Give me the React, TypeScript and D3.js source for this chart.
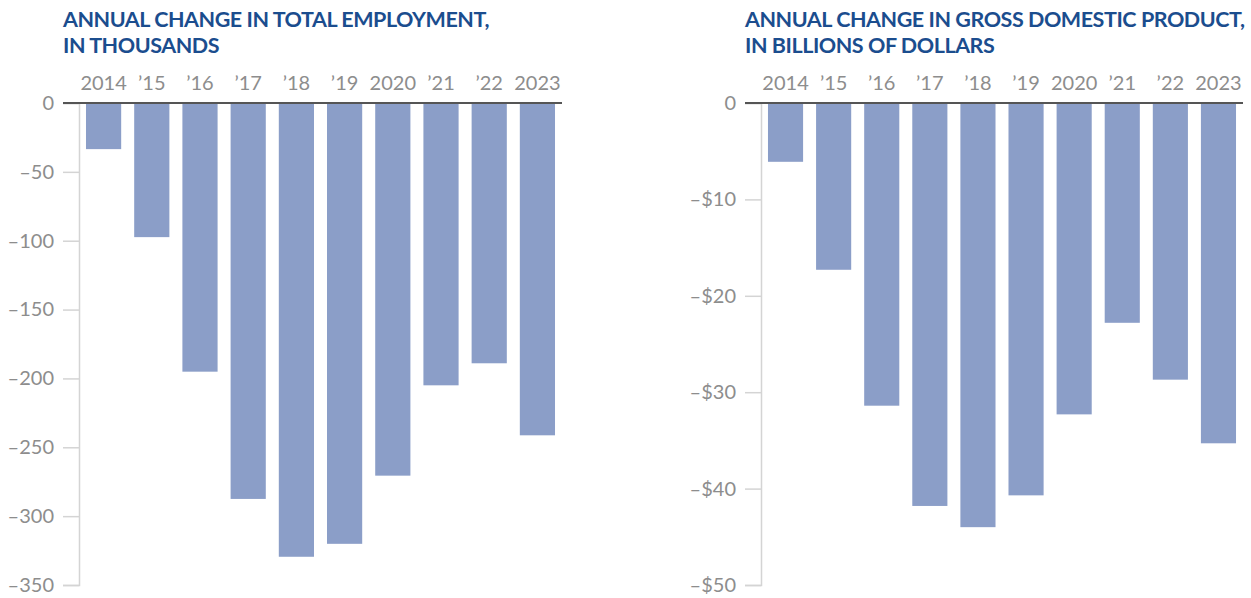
import * as d3 from "d3";
import { useEffect, useRef } from "react";

const years = ["2014", "’15", "’16", "’17", "’18", "’19", "2020", "’21", "’22", "2023"];
const employmentChange = [-33.5, -97.4, -195.1, -287.5, -329.5, -320.1, -270.6, -205, -189, -241.3];
const gdpChange = [-6.1, -17.3, -31.4, -41.8, -44.0, -40.7, -32.3, -22.8, -28.7, -35.3];
const employmentTicks = [0, -50, -100, -150, -200, -250, -300, -350];
const gdpTicks = [0, -10, -20, -30, -40, -50];
const employmentTitle = ["ANNUAL CHANGE IN TOTAL EMPLOYMENT,", "IN THOUSANDS"];
const gdpTitle = ["ANNUAL CHANGE IN GROSS DOMESTIC PRODUCT,", "IN BILLIONS OF DOLLARS"];

const BAR = "#8b9ec8";
const TITLE = "#1b4d8e";
const MUTED = "#8d8d8d";
const FONT = "Lato, 'Open Sans', sans-serif";

interface PanelProps {
  values: number[];
  ticks: number[];
  min: number;
  title: string[];
  axisX: number;
  right: number;
  titleX: number;
  fmt: (v: number) => string;
}

function drawPanel(svg: d3.Selection<SVGSVGElement, unknown, null, undefined>, p: PanelProps) {
  const top = 103;
  const bottom = 585;
  const g = svg.append("g");

  const x = d3.scaleBand<string>().domain(years).range([p.axisX, p.right]).paddingInner(0.27).paddingOuter(0.145);
  const y = d3.scaleLinear().domain([0, p.min]).range([top, bottom]);

  // title
  const t = g
    .append("text")
    .attr("x", p.titleX)
    .attr("fill", TITLE)
    .attr("font-family", FONT)
    .attr("font-weight", 700)
    .attr("font-size", 21.5)
    .attr("letter-spacing", -0.45);
  p.title.forEach((line, i) => {
    t.append("tspan").attr("x", p.titleX).attr("y", 27 + i * 26).text(line);
  });

  // y axis
  g.append("g")
    .attr("transform", `translate(${p.axisX},0)`)
    .call(
      d3
        .axisLeft(y)
        .tickValues(p.ticks)
        .tickSize(16)
        .tickPadding(9)
        .tickFormat((d) => p.fmt(d as number)),
    )
    .call((a) => a.select(".domain").attr("stroke", "#d4d4d4").attr("stroke-width", 1.5))
    .call((a) => a.selectAll(".tick line").attr("stroke", "#d4d4d4").attr("stroke-width", 1.5))
    .call((a) =>
      a
        .selectAll(".tick text")
        .attr("fill", MUTED)
        .attr("font-family", FONT)
        .attr("font-size", "20px"),
    );

  // bars
  g.selectAll(".bar")
    .data(p.values)
    .enter()
    .append("rect")
    .attr("x", (_, i) => x(years[i]) || 0)
    .attr("width", x.bandwidth())
    .attr("y", y(0))
    .attr("height", (d) => y(d) - y(0))
    .attr("fill", BAR);

  // zero line
  g.append("line")
    .attr("x1", p.axisX - 16)
    .attr("x2", p.right)
    .attr("y1", y(0))
    .attr("y2", y(0))
    .attr("stroke", "#555")
    .attr("stroke-width", 2);

  // category labels
  g.selectAll(".cat")
    .data(years)
    .enter()
    .append("text")
    .attr("x", (d) => (x(d) || 0) + x.bandwidth() / 2)
    .attr("y", 90)
    .attr("text-anchor", "middle")
    .attr("fill", MUTED)
    .attr("font-family", FONT)
    .attr("font-size", 20)
    .text((d) => d);
}

export default function App() {
  const svgRef = useRef<SVGSVGElement>(null);

  useEffect(() => {
    if (!svgRef.current) return;
    const svg = d3.select(svgRef.current);
    svg.selectAll("*").remove();

    drawPanel(svg, {
      values: employmentChange,
      ticks: employmentTicks,
      min: -350,
      title: employmentTitle,
      axisX: 79,
      right: 562,
      titleX: 63,
      fmt: (v) => (v === 0 ? "0" : `–${Math.abs(v)}`),
    });
    drawPanel(svg, {
      values: gdpChange,
      ticks: gdpTicks,
      min: -50,
      title: gdpTitle,
      axisX: 761,
      right: 1243,
      titleX: 745,
      fmt: (v) => (v === 0 ? "0" : `–$${Math.abs(v)}`),
    });
  }, []);

  return (
    <div style={{ position: "absolute", left: 0, top: 0, background: "#fff" }}>
      <svg ref={svgRef} width={1251} height={598} />
    </div>
  );
}
